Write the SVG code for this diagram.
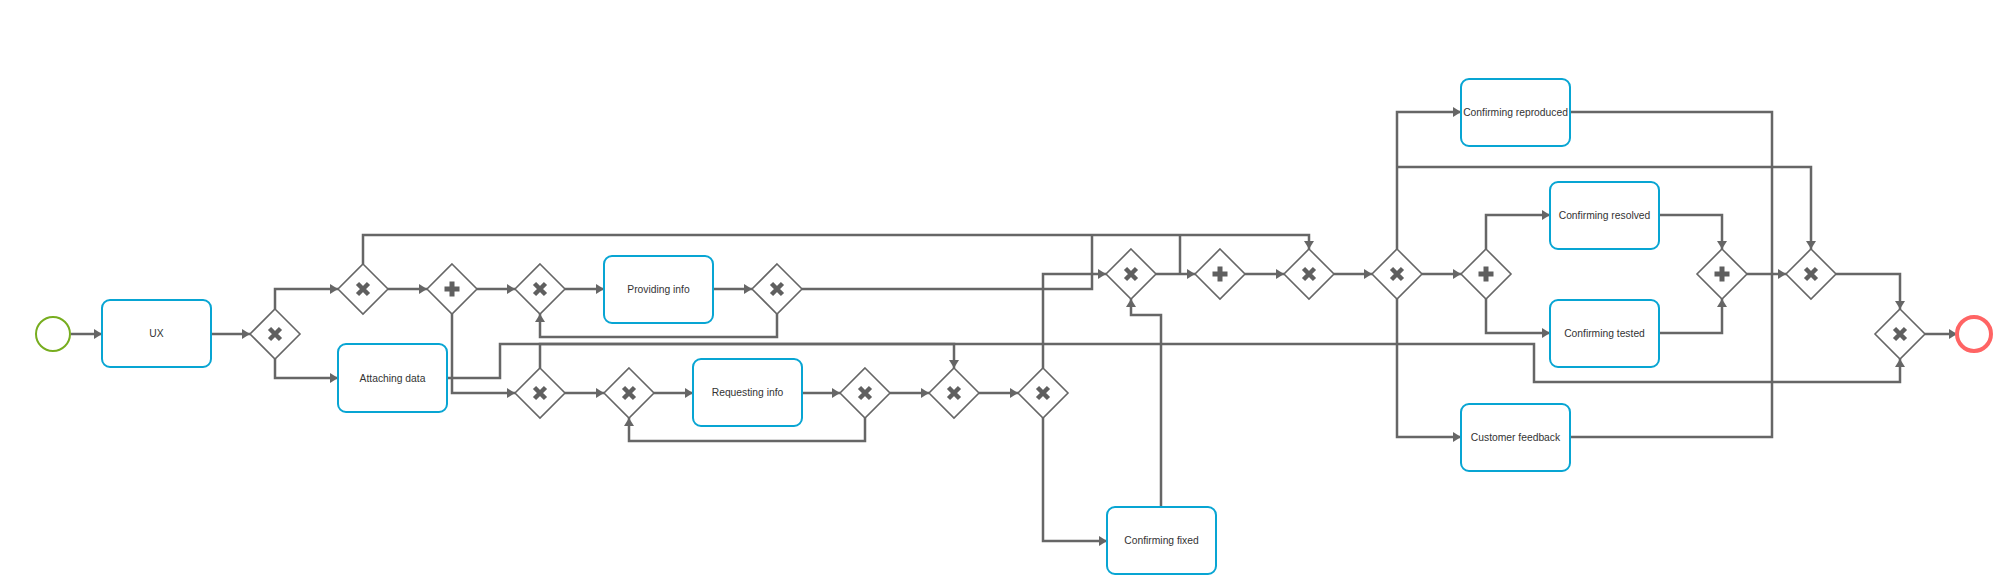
<svg xmlns="http://www.w3.org/2000/svg" width="2002" height="584" viewBox="0 0 2002 584">
<defs>
<marker id="arr" markerUnits="userSpaceOnUse" markerWidth="10" markerHeight="10" refX="8" refY="5" orient="auto"><path d="M0,0 L8,5 L0,10 z" fill="#666"/></marker>
<g id="gw"><path d="M0,-25 L25,0 L0,25 L-25,0 Z" fill="#fff" stroke="#666" stroke-width="1.6"/></g>
<g id="xm"><path d="M-5.5,-5.5 L5.5,5.5 M5.5,-5.5 L-5.5,5.5" stroke="#5f5f5f" stroke-width="4.5" fill="none"/></g>
<g id="pm"><path d="M0,-7.5 V7.5 M-7.5,0 H7.5" stroke="#5f5f5f" stroke-width="5" fill="none"/></g>
</defs>
<style>
.c{fill:none;stroke:#666;stroke-width:2.5;}
.a{marker-end:url(#arr);}
.t rect{fill:#fff;stroke:#08a5d3;stroke-width:2;}
.t text{font-family:"Liberation Sans",Arial,sans-serif;font-size:10.3px;fill:#333;text-anchor:middle;dominant-baseline:central;}
</style>
<rect width="2002" height="584" fill="#fff"/>
<g id="connectors">
<path class="c a" d="M71,334 H102"/>
<path class="c a" d="M211,334 H250"/>
<path class="c a" d="M275,309 V289 H338"/>
<path class="c a" d="M275,359 V378 H338"/>
<path class="c a" d="M388,289 H427"/>
<path class="c a" d="M363,264 V235 H1309 V249"/>
<path class="c a" d="M477,289 H515"/>
<path class="c a" d="M452,314 V393 H515"/>
<path class="c a" d="M565,289 H604"/>
<path class="c a" d="M713,289 H752"/>
<path class="c a" d="M777,314 V337 H540 V314"/>
<path class="c" d="M802,289 H1092 V235"/>
<path class="c a" d="M447,378 H500 V344 H1534 V382 H1900 V359"/>
<path class="c a" d="M540,368 V344 H954 V368"/>
<path class="c a" d="M565,393 H604"/>
<path class="c a" d="M654,393 H693"/>
<path class="c a" d="M802,393 H840"/>
<path class="c a" d="M865,418 V441 H629 V418"/>
<path class="c a" d="M890,393 H929"/>
<path class="c a" d="M979,393 H1018"/>
<path class="c a" d="M1043,368 V274 H1106"/>
<path class="c a" d="M1043,418 V541 H1107"/>
<path class="c a" d="M1161,507 V315 H1131 V299"/>
<path class="c a" d="M1156,274 H1195"/>
<path class="c" d="M1180,274 V235"/>
<path class="c a" d="M1245,274 H1284"/>
<path class="c a" d="M1334,274 H1372"/>
<path class="c a" d="M1397,249 V112 H1461"/>
<path class="c a" d="M1397,167 H1811 V249"/>
<path class="c a" d="M1397,299 V437 H1461"/>
<path class="c a" d="M1422,274 H1461"/>
<path class="c a" d="M1486,249 V215 H1550"/>
<path class="c a" d="M1486,299 V333 H1550"/>
<path class="c a" d="M1659,215 H1722 V249"/>
<path class="c a" d="M1659,333 H1722 V299"/>
<path class="c a" d="M1747,274 H1786"/>
<path class="c" d="M1570,112 H1772 V274"/>
<path class="c" d="M1570,437 H1772 V274"/>
<path class="c a" d="M1836,274 H1900 V309"/>
<path class="c a" d="M1925,334 H1957"/>
</g>
<g id="start"><circle cx="53" cy="334" r="17" fill="#fff" stroke="#77ad1f" stroke-width="2"/></g>
<g id="end"><circle cx="1974" cy="334" r="17" fill="#fff" stroke="#ff6464" stroke-width="4"/></g>
<g id="ux" class="t"><rect x="102" y="300" width="109" height="67" rx="8"/><text x="156.5" y="333.5">UX</text></g>
<g id="attaching" class="t"><rect x="338" y="344" width="109" height="68" rx="8"/><text x="392.5" y="378">Attaching data</text></g>
<g id="providing" class="t"><rect x="604" y="256" width="109" height="67" rx="8"/><text x="658.5" y="289.5">Providing info</text></g>
<g id="requesting" class="t"><rect x="693" y="359" width="109" height="67" rx="8"/><text x="747.5" y="392.5">Requesting info</text></g>
<g id="fixed" class="t"><rect x="1107" y="507" width="109" height="67" rx="8"/><text x="1161.5" y="540.5">Confirming fixed</text></g>
<g id="reproduced" class="t"><rect x="1461" y="79" width="109" height="67" rx="8"/><text x="1515.5" y="112.5">Confirming reproduced</text></g>
<g id="resolved" class="t"><rect x="1550" y="182" width="109" height="67" rx="8"/><text x="1604.5" y="215.5">Confirming resolved</text></g>
<g id="tested" class="t"><rect x="1550" y="300" width="109" height="67" rx="8"/><text x="1604.5" y="333.5">Confirming tested</text></g>
<g id="feedback" class="t"><rect x="1461" y="404" width="109" height="67" rx="8"/><text x="1515.5" y="437.5">Customer feedback</text></g>
<g id="g1" transform="translate(275,334)"><use href="#gw"/><use href="#xm"/></g>
<g id="g2" transform="translate(363,289)"><use href="#gw"/><use href="#xm"/></g>
<g id="g3" transform="translate(452,289)"><use href="#gw"/><use href="#pm"/></g>
<g id="g4" transform="translate(540,289)"><use href="#gw"/><use href="#xm"/></g>
<g id="g5" transform="translate(777,289)"><use href="#gw"/><use href="#xm"/></g>
<g id="g6" transform="translate(540,393)"><use href="#gw"/><use href="#xm"/></g>
<g id="g7" transform="translate(629,393)"><use href="#gw"/><use href="#xm"/></g>
<g id="g8" transform="translate(865,393)"><use href="#gw"/><use href="#xm"/></g>
<g id="g9" transform="translate(954,393)"><use href="#gw"/><use href="#xm"/></g>
<g id="g10" transform="translate(1043,393)"><use href="#gw"/><use href="#xm"/></g>
<g id="g11" transform="translate(1131,274)"><use href="#gw"/><use href="#xm"/></g>
<g id="g12" transform="translate(1220,274)"><use href="#gw"/><use href="#pm"/></g>
<g id="g13" transform="translate(1309,274)"><use href="#gw"/><use href="#xm"/></g>
<g id="g14" transform="translate(1397,274)"><use href="#gw"/><use href="#xm"/></g>
<g id="g15" transform="translate(1486,274)"><use href="#gw"/><use href="#pm"/></g>
<g id="g16" transform="translate(1722,274)"><use href="#gw"/><use href="#pm"/></g>
<g id="g17" transform="translate(1811,274)"><use href="#gw"/><use href="#xm"/></g>
<g id="g18" transform="translate(1900,334)"><use href="#gw"/><use href="#xm"/></g>
</svg>
